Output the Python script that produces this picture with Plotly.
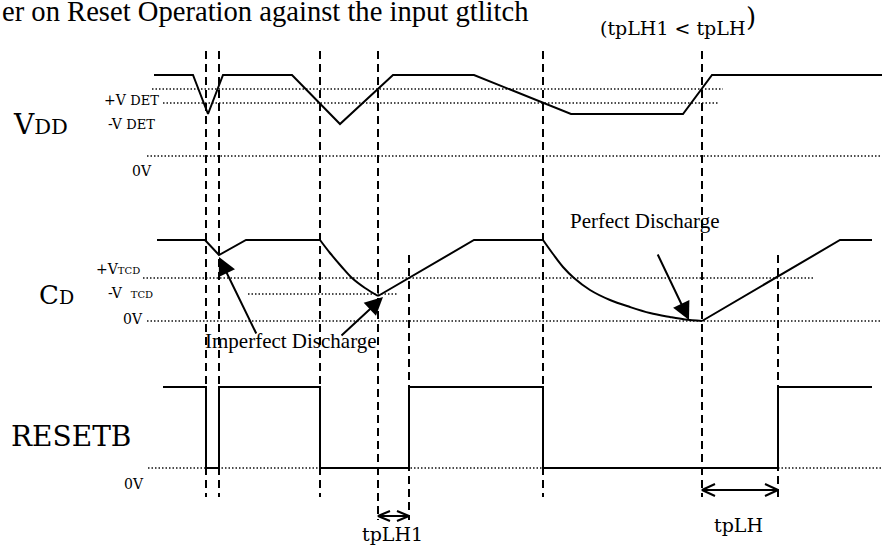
import plotly.graph_objects as go

# Canvas coordinates: x grows to the right, y grows downward (reversed axis)
W, H = 882, 547

# ---- VDD waveform ----
vdd_x = [154, 193, 208, 223, 292, 340, 393, 474, 571, 683, 712, 882]
vdd_y = [75, 75, 114, 75, 75, 124, 75, 75, 114, 114, 75, 75]

# ---- CD waveform (two exponential-like discharge curves read as point lists) ----
cd_seg1_x = [157, 205, 219, 246, 320]
cd_seg1_y = [240, 240, 255, 240, 240]
cd_curve1_x = [320, 330, 341, 352, 365, 378]
cd_curve1_y = [240, 253, 266, 278, 288, 296]
cd_seg2_x = [378, 474, 543]
cd_seg2_y = [296, 240, 240]
cd_curve2_x = [543, 553, 563, 574, 590, 610, 630, 650, 670, 685, 702]
cd_curve2_y = [240, 254, 267, 278, 290, 300, 307, 313, 317, 319.5, 321]
cd_seg3_x = [702, 840, 872]
cd_seg3_y = [321, 240, 240]

# ---- RESETB waveform ----
rst_x = [163, 206, 206, 219, 219, 320, 320, 409, 409, 543, 543, 778, 778, 872]
rst_y = [387, 387, 468, 468, 387, 387, 468, 468, 387, 387, 468, 468, 387, 387]

# ---- dashed timing markers: x, top, bottom ----
marker_x = [206, 219, 320, 378, 409, 543, 702, 778]
marker_top = [51, 51, 51, 51, 255, 51, 51, 255]
marker_bot = [497, 497, 497, 520, 520, 497, 497, 497]

# ---- dotted reference levels: y, x start, x end ----
level_y = [89, 103, 156, 278, 294, 321, 468]
level_x0 = [152, 163, 147, 143, 248, 147, 148]
level_x1 = [723, 719, 882, 813, 397, 882, 882]

# ---- timing dimension arrows ----
tplh1_span = [378, 409]
tplh1_y = 516
tplh_span = [702, 778]
tplh_y = 490

# ---- annotation arrows: (tail x, tail y, head x, head y) ----
discharge_arrows = [
    (257, 335, 219, 257),
    (340, 337, 383, 297),
    (657, 253, 689, 320),
]

fig = go.Figure()

BLACK = "#000000"


def add_line(xs, ys, width=2, dash=None, color=BLACK, shape="linear"):
    fig.add_trace(go.Scatter(
        x=xs, y=ys, mode="lines",
        line=dict(color=color, width=width, dash=dash, shape=shape),
        hoverinfo="skip", showlegend=False,
    ))


# dotted reference levels
for y, x0, x1 in zip(level_y, level_x0, level_x1):
    add_line([x0, x1], [y, y], width=1.5, dash="1.5px,2px", color="#111111")

# dashed timing markers
for x, t, b in zip(marker_x, marker_top, marker_bot):
    add_line([x, x], [t, b], width=2, dash="8px,5px")

# waveforms
add_line(vdd_x, vdd_y)
add_line(cd_seg1_x, cd_seg1_y)
add_line(cd_curve1_x, cd_curve1_y, shape="spline")
add_line(cd_seg2_x, cd_seg2_y)
add_line(cd_curve2_x, cd_curve2_y, shape="spline")
add_line(cd_seg3_x, cd_seg3_y)
add_line(rst_x, rst_y)


# double-headed dimension arrows with open chevron heads
def dim_arrow(span, y, head_len, head_half):
    x0, x1 = span
    add_line([x0, x1], [y, y], width=2)
    add_line([x0 + head_len, x0, x0 + head_len], [y - head_half, y, y + head_half], width=2)
    add_line([x1 - head_len, x1, x1 - head_len], [y - head_half, y, y + head_half], width=2)


dim_arrow(tplh1_span, tplh1_y, 12, 5)
dim_arrow(tplh_span, tplh_y, 13, 6)

annotations = []

# filled-head pointer arrows
for tx, ty, hx, hy in discharge_arrows:
    annotations.append(dict(
        x=hx, y=hy, ax=tx, ay=ty, xref="x", yref="y", axref="x", ayref="y",
        text="", showarrow=True, arrowhead=2, arrowsize=1.8, arrowwidth=2,
        arrowcolor=BLACK, standoff=0, startstandoff=0,
    ))


def label(x, y, text, size, family="DejaVu Serif", xanchor="left"):
    annotations.append(dict(
        x=x, y=y, xref="x", yref="y", text=text, showarrow=False,
        xanchor=xanchor, yanchor="middle",
        font=dict(family=family, size=size, color=BLACK),
    ))


SERIF = "Liberation Serif"

# title along the top edge
label(0, 11, "er on Reset Operation against the input gtlitch", 28.6, family=SERIF)
label(598, 28, "(tpLH1 &lt; tpLH", 19)
label(751, 17, ")", 26, xanchor="center")

# signal names
label(11, 124, "V<span style='font-size:21px'>DD</span>", 28)
label(37, 295, "C<span style='font-size:19px'>D</span>", 26)
label(9, 436, "RESETB", 28)

# level labels
label(102, 100, "+V <span style='font-size:13px'>DET</span>", 14)
label(106, 124, "-V <span style='font-size:13px'>DET</span>", 14)
label(130, 171, "0V", 14)
label(94, 269, "+V<span style='font-size:10px'>TCD</span>", 14)
label(106, 293, "-V  <span style='font-size:10px'>TCD</span>", 14)
label(121, 319, "0V", 14)
label(122, 484, "0V", 14)

# callouts
label(203, 341, "Imperfect Discharge", 21, family=SERIF)
label(568, 221, "Perfect Discharge", 21, family=SERIF)

# timing labels
label(392, 534, "tpLH1", 19, xanchor="center")
label(738, 525, "tpLH", 19, xanchor="center")

fig.update_layout(
    width=W, height=H, autosize=False,
    margin=dict(l=0, r=0, t=0, b=0),
    paper_bgcolor="white", plot_bgcolor="white",
    xaxis=dict(range=[0, W], visible=False, fixedrange=True),
    yaxis=dict(range=[H, 0], visible=False, fixedrange=True),
    annotations=annotations,
    showlegend=False,
)

fig.write_html("out.html", config={"displayModeBar": False})
